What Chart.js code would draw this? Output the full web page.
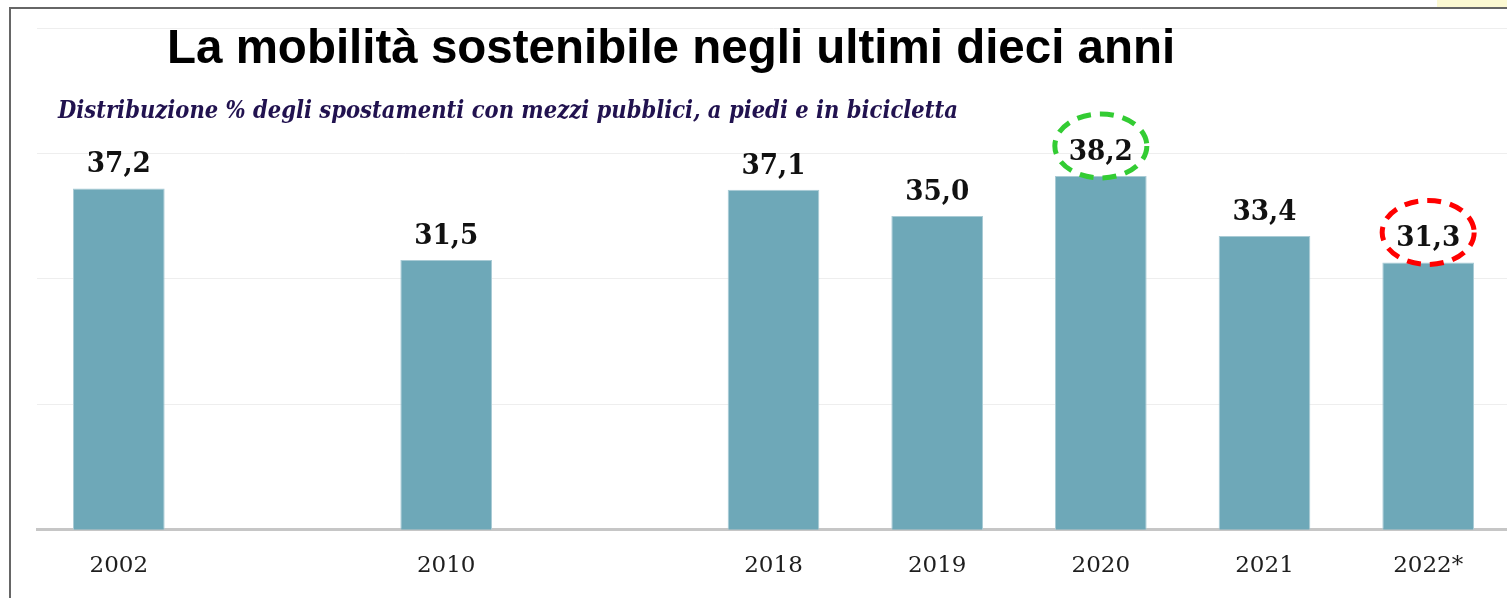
<!DOCTYPE html>
<html lang="it">
<head>
<meta charset="utf-8">
<title>La mobilità sostenibile negli ultimi dieci anni</title>
<script src="https://cdn.jsdelivr.net/npm/chart.js@4.4.1/dist/chart.umd.min.js"></script>
<style>
  html, body { margin: 0; padding: 0; background: #fff; overflow: hidden; }
  #wrap { position: relative; width: 1507px; height: 598px; overflow: hidden; }
  #grafico { position: absolute; left: 0; top: 0; }
  .bordo-sx { position: absolute; left: 9px; top: 7px; width: 2px; height: 600px; background: #666; }
  .bordo-su { position: absolute; left: 9px; top: 7px; width: 1500px; height: 2px; background: #666; }
  .macchia { position: absolute; left: 1437px; top: 0; width: 70px; height: 7px; background: #fcf9d2; }
</style>
</head>
<body>
<div id="wrap">
  <canvas id="grafico" width="1510" height="598"></canvas>
  <div class="macchia"></div>
  <div class="bordo-su"></div>
  <div class="bordo-sx"></div>
</div>
<script>
// anni (gli slot vuoti lasciano lo spazio tra 2002, 2010 e 2018)
const anni = ['2002', '', '2010', '', '2018', '2019', '2020', '2021', '2022*'];
// quota % degli spostamenti sostenibili
const quote = [37.2, null, 31.5, null, 37.1, 35.0, 38.2, 33.4, 31.3];
// valori delle linee di griglia dell'asse Y
const tickY = [10, 20, 30, 40, 50];
// anni evidenziati con il cerchio tratteggiato
const evidenziati = ['2020', '2022*'];
const coloriEvidenza = ['#33cc33', '#ff0000'];

const titolo = 'La mobilità sostenibile negli ultimi dieci anni';
const sottotitolo = 'Distribuzione % degli spostamenti con mezzi pubblici, a piedi e in bicicletta';

const formato = v => v.toFixed(1).replace('.', ',');

// etichette sopra le barre, cerchi e titoli
const testiPlugin = {
  id: 'testi',
  afterDatasetsDraw(chart) {
    const ctx = chart.ctx;
    const meta = chart.getDatasetMeta(0);
    meta.data.forEach((bar, i) => {
      if (quote[i] == null) return;
      ctx.save();
      ctx.font = 'bold 27px "DejaVu Serif"';
      ctx.fillStyle = '#111';
      ctx.textAlign = 'center';
      ctx.textBaseline = 'alphabetic';
      ctx.fillText(formato(quote[i]), bar.x, bar.y - 16, 64);

      const k = evidenziati.indexOf(anni[i]);
      if (k >= 0) {
        ctx.strokeStyle = coloriEvidenza[k];
        ctx.lineWidth = 5;
        ctx.setLineDash([14, 9]);
        ctx.beginPath();
        ctx.ellipse(bar.x, bar.y - 30, 46, 32, 0, 0, Math.PI * 2);
        ctx.stroke();
      }
      ctx.restore();
    });
  },
  afterDraw(chart) {
    const ctx = chart.ctx;
    ctx.save();
    ctx.textAlign = 'left';
    ctx.textBaseline = 'alphabetic';
    ctx.fillStyle = '#000';
    ctx.font = 'bold 47.5px "Liberation Sans", Arial, sans-serif';
    ctx.fillText(titolo, 167, 63, 1012);
    ctx.fillStyle = '#21124f';
    ctx.font = 'italic bold 25px "DejaVu Serif"';
    ctx.fillText(sottotitolo, 58, 118, 900);
    ctx.restore();
  }
};

const ctx = document.getElementById('grafico').getContext('2d');

new Chart(ctx, {
  type: 'bar',
  data: {
    labels: anni,
    datasets: [{
      label: 'Distribuzione %',
      data: quote,
      backgroundColor: '#6ea8b8',
      borderColor: '#a9cbd5',
      borderWidth: 1,
      categoryPercentage: 1,
      barPercentage: 0.56
    }]
  },
  options: {
    responsive: false,
    animation: false,
    devicePixelRatio: 1,
    layout: { padding: { left: 37, top: 28, right: 0, bottom: -5 } },
    plugins: {
      legend: { display: false },
      title: { display: false },
      tooltip: { enabled: false }
    },
    scales: {
      x: {
        grid: { display: false, drawTicks: false },
        border: { display: true, color: '#c6c6c6', width: 3 },
        ticks: {
          autoSkip: false,
          maxRotation: 0,
          padding: 23,
          color: '#1e1e1e',
          font: { family: '"DejaVu Serif"', size: 23 }
        }
      },
      y: {
        min: tickY[0],
        max: tickY[tickY.length - 1],
        afterBuildTicks: scale => { scale.ticks = tickY.map(v => ({ value: v })); },
        grid: { color: '#eeeeee', lineWidth: 1, drawTicks: false },
        border: { display: false },
        ticks: { display: false }
      }
    }
  },
  plugins: [testiPlugin]
});
</script>
</body>
</html>
